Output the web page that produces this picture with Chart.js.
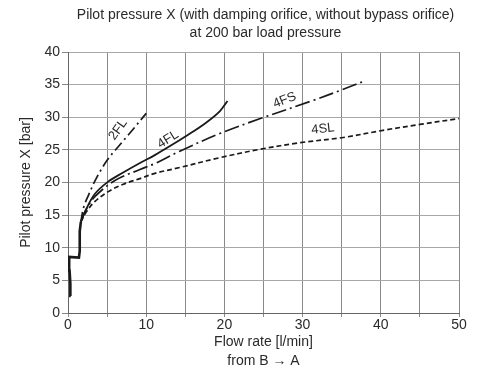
<!DOCTYPE html>
<html>
<head>
<meta charset="utf-8">
<script src="https://cdn.jsdelivr.net/npm/chart.js@4/dist/chart.umd.min.js"></script>
<style>
  html, body { margin: 0; padding: 0; background: #ffffff; }
  #wrap { width: 484px; height: 378px; position: relative; }
</style>
</head>
<body>
<div id="wrap"><canvas id="c" width="484" height="378"></canvas></div>
<script>
// ---- Data ----
const titleLines = ['Pilot pressure X (with damping orifice, without bypass orifice)', 'at 200 bar load pressure'];
const xTitle = ['Flow rate [l/min]', 'from B \u2192 A'];
const yTitle = 'Pilot pressure X [bar]';
const xTickLabels = [0, 10, 20, 30, 40, 50];
const yTickLabels = [0, 5, 10, 15, 20, 25, 30, 35, 40];

// common start (all curves overlap)
const trunkX = [0.35, 0.3, 0.2, 0.15, 0.0, 1.4, 1.5, 1.5, 1.65];
const trunkY = [2.6, 4.5, 6.5, 8.5, 8.6, 8.5, 9.5, 12.5, 14.0];

const fl2X = [1.65, 2.0, 2.6, 3.6, 5.0, 6.5, 8.0, 10.0];
const fl2Y = [14.0, 16.2, 18.0, 20.6, 23.4, 25.6, 27.7, 30.6];

const fl4X = [1.65, 2.2, 3.4, 5.1, 7.0, 9.2, 11.1, 14.3, 16.0, 17.7, 19.4, 20.4];
const fl4Y = [14.0, 15.6, 18.2, 20.1, 21.5, 23.0, 24.2, 26.5, 27.8, 29.2, 30.9, 32.5];

const fs4X = [1.65, 2.3, 3.5, 6.0, 9.2, 11.1, 14.3, 19.4, 24.6, 31.4, 35.0, 38.0];
const fs4Y = [14.0, 15.8, 17.9, 20.3, 22.0, 22.9, 24.8, 27.5, 29.8, 32.6, 34.2, 35.6];

const sl4X = [1.65, 2.4, 3.45, 5.15, 7.0, 9.2, 11.1, 14.3, 19.4, 24.6, 29.7, 35.2, 40.3, 45.0, 50.0];
const sl4Y = [14.0, 15.6, 17.1, 18.6, 19.7, 20.6, 21.4, 22.3, 23.8, 25.1, 26.1, 26.9, 28.0, 28.9, 29.8];

const curveNames = ['2FL', '4FL', '4FS', '4SL'];

// ---- helpers ----
const pts = (xs, ys) => xs.map((x, i) => ({ x: x, y: ys[i] }));
const FONT = "'Liberation Sans', Arial, sans-serif";
const INK = '#1a1a1a';
const TXT = '#2a2a2a';

// label anchors (positions only, in data units) and rotations
const labelPlacement = [
  { name: curveNames[0], x: 6.4, y: 28.1, rot: -55 },
  { name: curveNames[1], x: 12.8, y: 26.6, rot: -32 },
  { name: curveNames[2], x: 27.7, y: 32.6, rot: -22 },
  { name: curveNames[3], x: 32.6, y: 28.2, rot: -6 }
];

const curveLabelPlugin = {
  id: 'curveLabels',
  afterDatasetsDraw(chart) {
    const ctx = chart.ctx;
    const xs = chart.scales.x, ys = chart.scales.y;
    ctx.save();
    ctx.font = '13px ' + FONT;
    ctx.fillStyle = TXT;
    ctx.textAlign = 'center';
    ctx.textBaseline = 'middle';
    labelPlacement.forEach(l => {
      ctx.save();
      ctx.translate(xs.getPixelForValue(l.x), ys.getPixelForValue(l.y));
      ctx.rotate(l.rot * Math.PI / 180);
      ctx.fillText(l.name, 0, 0);
      ctx.restore();
    });
    ctx.restore();
  }
};

const titlePlugin = {
  id: 'topTitle',
  afterDraw(chart) {
    const ctx = chart.ctx;
    const ca = chart.chartArea;
    const cx = (ca.left + ca.right) / 2 + 2;
    ctx.save();
    ctx.font = '14px ' + FONT;
    ctx.fillStyle = TXT;
    ctx.textAlign = 'center';
    ctx.textBaseline = 'middle';
    ctx.fillText(titleLines[0], cx, 15);
    ctx.fillText(titleLines[1], cx, 33);
    ctx.restore();
  }
};

const lineDs = (label, data, dash, width) => ({
  label: label,
  data: data,
  showLine: true,
  borderColor: INK,
  backgroundColor: INK,
  borderWidth: width,
  borderDash: dash,
  pointRadius: 0,
  tension: 0.35,
  fill: false
});

const trunk = lineDs('common', pts(trunkX, trunkY), [], 2.6);
trunk.tension = 0;

new Chart(document.getElementById('c'), {
  type: 'scatter',
  data: {
    datasets: [
      trunk,
      lineDs(curveNames[0], pts(fl2X, fl2Y), [10, 4, 2, 4], 1.7),
      lineDs(curveNames[1], pts(fl4X, fl4Y), [], 1.8),
      lineDs(curveNames[2], pts(fs4X, fs4Y), [15, 4, 2, 4], 1.7),
      lineDs(curveNames[3], pts(sl4X, sl4Y), [5, 3], 1.7)
    ]
  },
  options: {
    responsive: false,
    animation: false,
    layout: { padding: { left: 0, top: 52, right: 25, bottom: 0 } },
    plugins: {
      legend: { display: false },
      title: { display: false },
      tooltip: { enabled: false }
    },
    scales: {
      x: {
        type: 'linear',
        min: 0, max: 50,
        afterFit(scale) { scale.height = 65; },
        afterBuildTicks(scale) {
          const t = [];
          for (let v = 0; v <= 50; v += 5) t.push({ value: v });
          scale.ticks = t;
        },
        ticks: {
          autoSkip: false,
          maxRotation: 0,
          padding: 0,
          color: TXT,
          font: { family: FONT, size: 14 },
          callback: (v) => xTickLabels.includes(v) ? String(v) : ''
        },
        grid: { color: '#8a8a8a', lineWidth: 1, tickLength: 4, tickColor: '#8a8a8a' },
        border: { color: '#666', width: 1 },
        title: {
          display: true,
          text: xTitle,
          color: TXT,
          font: { family: FONT, size: 14, lineHeight: 1.36 },
          padding: { top: 0, bottom: 7 }
        }
      },
      y: {
        type: 'linear',
        min: 0, max: 40,
        afterFit(scale) { scale.width = 68; },
        afterBuildTicks(scale) {
          scale.ticks = yTickLabels.map(v => ({ value: v }));
        },
        ticks: {
          padding: 2,
          color: TXT,
          font: { family: FONT, size: 14 },
          callback: (v) => String(v)
        },
        grid: { color: '#a8a8a8', lineWidth: 1, tickLength: 6, tickColor: '#888' },
        border: { color: '#666', width: 1 },
        title: {
          display: true,
          text: yTitle,
          color: TXT,
          font: { family: FONT, size: 14 },
          padding: { top: 18, bottom: 0 }
        }
      }
    }
  },
  plugins: [curveLabelPlugin, titlePlugin]
});
</script>
</body>
</html>
